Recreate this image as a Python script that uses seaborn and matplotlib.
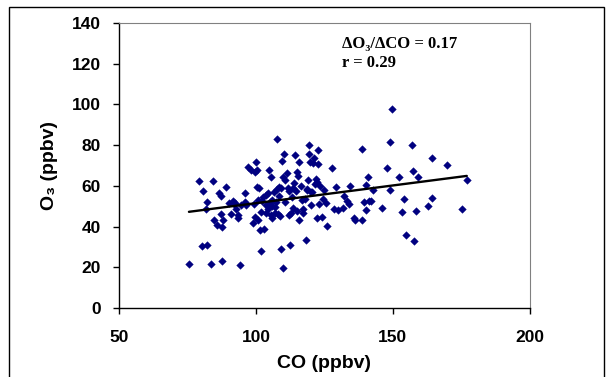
import numpy as np
import pandas as pd
import matplotlib
matplotlib.use("Agg")
import matplotlib.pyplot as plt
import seaborn as sns
from matplotlib.patches import Rectangle

# CO (ppbv) vs O3 (ppbv)
co = [75.5, 79.3, 80.3, 82.0, 80.7, 82.0, 81.7, 83.6, 84.3, 84.7,
      85.7, 86.4, 87.1, 87.3, 87.4, 87.5, 88.0, 89.0, 90.1, 90.8,
      91.5, 91.9, 92.7, 93.4, 93.5, 94.1, 94.5, 96.1, 95.8, 97.2,
      98.1, 98.8, 99.2, 99.6, 99.9, 99.6, 100.5, 100.5, 100.6, 100.8,
      101.2, 101.5, 101.9, 101.8, 102.2, 102.5, 103.0, 103.5, 103.7, 104.2,
      104.7, 105.0, 105.3, 105.6, 105.7, 106.0, 106.6, 106.9, 107.2, 107.6,
      107.7, 108.0, 108.3, 108.6, 109.0, 109.3, 109.6, 109.7, 109.9, 110.1,
      110.7, 111.3, 111.6, 111.9, 112.6, 112.8, 113.1, 113.6, 114.0, 114.4,
      114.7, 115.0, 115.1, 115.5, 115.7, 115.8, 116.3, 116.7, 117.0, 117.3,
      117.8, 118.1, 118.5, 118.8, 119.1, 119.2, 119.4, 119.7, 120.0, 120.2,
      120.5, 120.8, 121.2, 121.5, 121.8, 122.1, 122.4, 122.7, 122.8, 123.1,
      123.5, 124.1, 124.5, 124.9, 125.4, 125.9, 127.8, 128.6, 129.2, 129.8,
      131.8, 132.3, 133.2, 133.9, 134.5, 135.9, 136.3, 138.7, 138.7, 139.6,
      140.0, 140.3, 140.9, 141.3, 142.1, 142.7, 146.1, 147.8, 148.8, 148.9,
      149.7, 152.4, 153.4, 154.1, 154.7, 157.1, 157.2, 157.9, 158.6, 159.2,
      163.0, 164.4, 164.4, 169.9, 175.4, 177.0,
      103.5, 104.5, 106.0, 108.5, 110.5, 112.0, 113.5, 107.0, 96.5, 92.5]
o3 = [21.6, 62.6, 30.3, 30.8, 57.6, 52.1, 48.6, 21.6, 62.6, 43.4,
      40.9, 56.3, 55.0, 46.3, 39.6, 23.1, 43.4, 59.6, 51.7, 46.2,
      52.6, 50.9, 48.5, 45.8, 44.0, 21.0, 50.4, 56.7, 52.2, 69.1,
      68.0, 41.6, 51.3, 67.0, 71.7, 44.7, 67.6, 59.4, 53.2, 43.4,
      58.8, 38.5, 28.0, 47.2, 52.4, 54.7, 39.0, 50.6, 46.7, 56.7,
      68.0, 52.1, 45.5, 64.5, 49.9, 44.2, 57.0, 46.5, 51.9, 83.0,
      58.5, 46.0, 59.6, 45.0, 29.0, 58.9, 72.2, 19.6, 64.5, 75.6,
      63.0, 66.3, 58.9, 45.8, 30.8, 46.7, 54.4, 58.9, 61.2, 75.0,
      57.3, 67.0, 47.8, 65.0, 43.4, 71.9, 59.8, 53.2, 48.6, 46.7,
      53.5, 33.2, 58.5, 58.1, 63.0, 80.1, 75.8, 71.6, 57.0, 50.4,
      57.0, 71.2, 73.8, 60.9, 63.5, 44.0, 61.7, 70.9, 77.6, 51.1,
      60.1, 44.9, 53.7, 57.8, 51.6, 40.1, 68.9, 48.5, 59.3, 48.1,
      49.0, 54.9, 52.6, 51.1, 59.8, 44.4, 43.4, 77.9, 43.4, 52.1,
      48.0, 60.6, 64.5, 52.4, 52.4, 58.0, 49.3, 68.9, 81.5, 58.0,
      97.6, 64.5, 47.3, 53.7, 35.7, 80.1, 67.3, 32.7, 47.8, 64.2,
      50.1, 73.7, 54.2, 70.4, 48.8, 62.9,
      55.5, 48.5, 53.0, 55.0, 52.0, 57.5, 49.0, 49.5, 50.5, 51.5]

x_ticks = [50, 100, 150, 200]
y_ticks = [0, 20, 40, 60, 80, 100, 120, 140]

df = pd.DataFrame({"CO": co, "O3": o3})

sns.set_style("white")
plt.rcParams['font.family'] = ['Liberation Sans', 'DejaVu Sans']
plt.rcParams['text.color'] = 'black'
plt.rcParams['axes.labelcolor'] = 'black'
plt.rcParams['xtick.color'] = 'black'
plt.rcParams['ytick.color'] = 'black'

fig = plt.figure(figsize=(6.11, 3.77), dpi=100)
ax = fig.add_axes([0.195, 0.183, 0.672, 0.756])

sns.scatterplot(data=df, x="CO", y="O3", ax=ax, marker="D", s=15,
                color="#000080", edgecolor="#000080", linewidth=0.3, zorder=3)
sns.regplot(data=df, x="CO", y="O3", ax=ax, scatter=False, ci=None,
            color="black", line_kws={"linewidth": 1.7, "zorder": 4})

ax.set_xlim(50, 200)
ax.set_ylim(0, 140)
ax.set_xticks(x_ticks)
ax.set_yticks(y_ticks)
ax.tick_params(axis="both", direction="out", length=4.3, width=1, labelsize=12.5,
               bottom=True, left=True)
ax.tick_params(axis="y", pad=8.7)
ax.tick_params(axis="x", pad=11.5)
for lab in ax.get_xticklabels() + ax.get_yticklabels():
    lab.set_fontweight("bold")

ax.set_xlabel("CO (ppbv)", fontsize=14, fontweight="bold", labelpad=7)
ax.set_ylabel("O₃ (ppbv)", fontsize=14, fontweight="bold", labelpad=10)

for side in ["left", "bottom"]:
    ax.spines[side].set_color("black")
    ax.spines[side].set_linewidth(1.0)
for side in ["top", "right"]:
    ax.spines[side].set_color("#808080")
    ax.spines[side].set_linewidth(0.8)

ax.text(0.543, 0.912, "ΔO₃/ΔCO = 0.17", transform=ax.transAxes, va="baseline",
        family=["Liberation Serif", "DejaVu Serif"], fontweight="bold", fontsize=12)
ax.text(0.543, 0.846, "r = 0.29", transform=ax.transAxes, va="baseline",
        family=["Liberation Serif", "DejaVu Serif"], fontweight="bold", fontsize=12)

# outer frame of the figure
fig.patches.append(Rectangle((9 / 611, -0.05), 595 / 611, 1.05 - 7 / 377,
                             transform=fig.transFigure, fill=False,
                             edgecolor="black", linewidth=1.0))

fig.savefig("out.png", dpi=100)
